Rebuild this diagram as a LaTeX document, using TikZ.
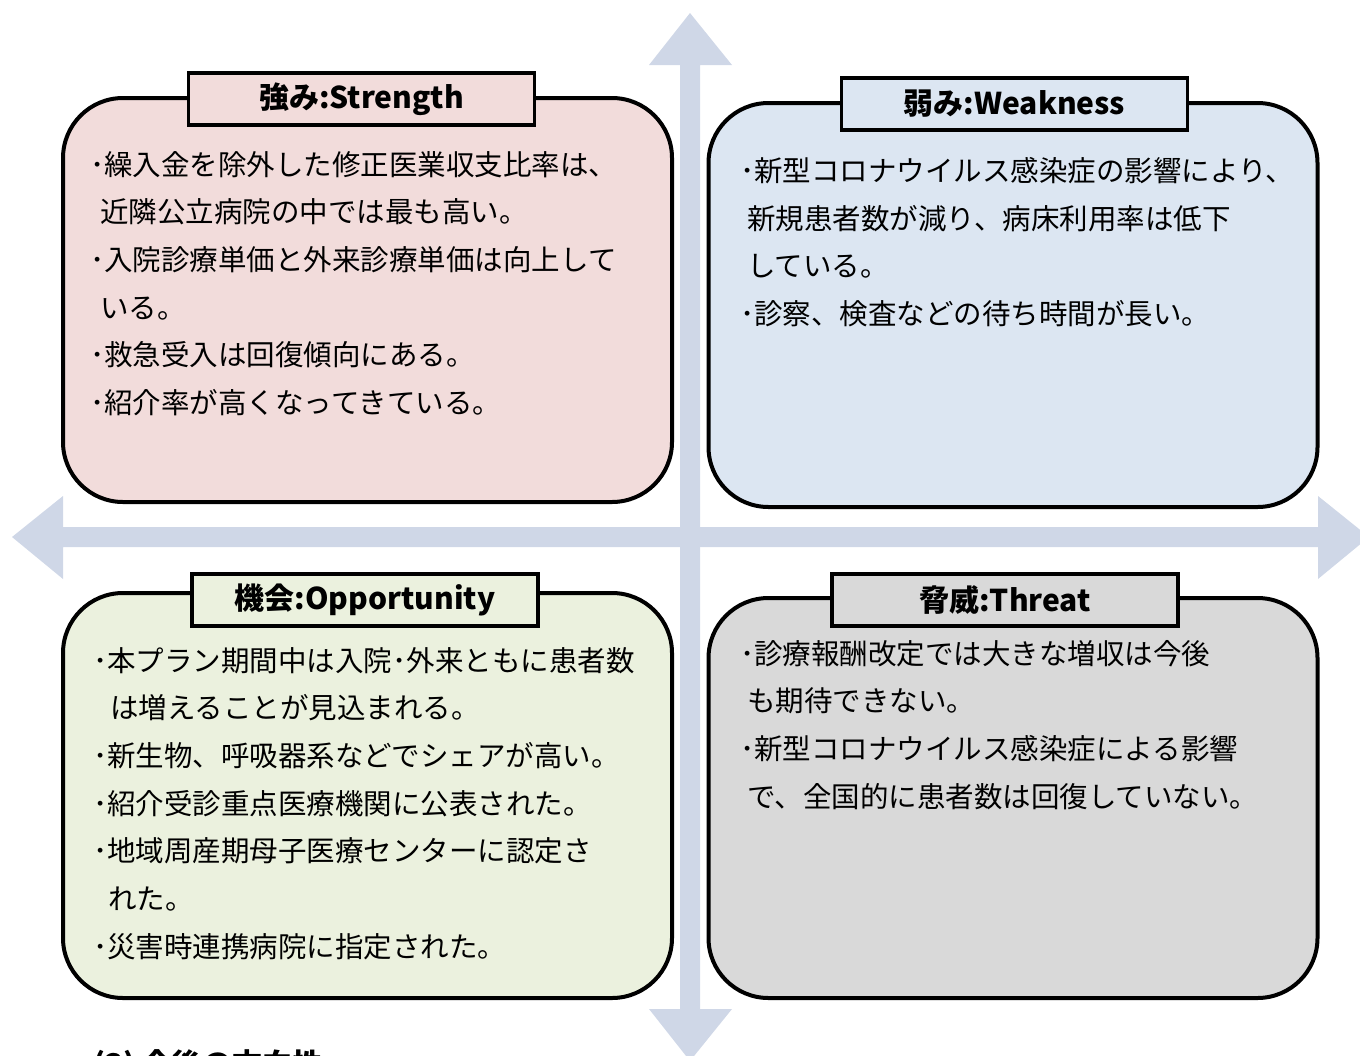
\documentclass[tikz,border=0pt]{standalone}
\usepackage{fontspec}
\setmainfont{Noto Sans CJK JP}
\definecolor{arrowc}{HTML}{CFD7E7}
\definecolor{sfill}{HTML}{F2DCDB}
\definecolor{wfill}{HTML}{DCE6F2}
\definecolor{ofill}{HTML}{EBF1DE}
\definecolor{tfill}{HTML}{D9D9D9}
\begin{document}
\begin{tikzpicture}[x=1pt,y=-1pt,
  quad/.style={draw=black, line width=4pt, rounded corners=60pt, minimum width=609pt, minimum height=404pt, inner sep=0pt},
  titlebox/.style={draw=black, line width=3.5pt, minimum width=346pt, minimum height=52pt, inner sep=0pt, font=\fontsize{30}{36}\selectfont\bfseries},
  body/.style={anchor=north west, align=left, inner sep=0pt, font=\fontsize{28.5}{47.7}\selectfont}]
\useasboundingbox (0,0) rectangle (1360,1055);
\clip (0,0) rectangle (1360,1055);
% cross arrows
\fill[arrowc] (690,13) -- (732,65) -- (700,65) -- (700,1009) -- (732,1009) -- (690,1061) -- (649,1009) -- (680,1009) -- (680,65) -- (649,65) -- cycle;
\fill[arrowc] (12,537) -- (63,496) -- (63,527) -- (1318,527) -- (1318,496) -- (1369,537) -- (1318,579) -- (1318,547) -- (63,547) -- (63,579) -- cycle;
% quadrant boxes
\node[quad, fill=sfill, minimum height=404pt] (S) at (367.5,300) {};
\node[quad, fill=wfill, minimum height=404pt] (W) at (1013,305) {};
\node[quad, fill=ofill, minimum height=405pt] (O) at (367.5,795.5) {};
\node[quad, fill=tfill, minimum height=400pt] (T) at (1013,798) {};
% titles
\node[titlebox, fill=sfill] (St) at (361.5,99) {強み:Strength};
\node[titlebox, fill=wfill] (Wt) at (1014.5,104) {弱み:Weakness};
\node[titlebox, fill=ofill] (Ot) at (365,600) {機会:Opportunity};
\node[titlebox, fill=tfill] (Tt) at (1005,600) {脅威:Threat};
% bodies
\node[body] (Sb) at (90,151) {･繰入金を除外した修正医業収支比率は、\\\hspace*{10pt}近隣公立病院の中では最も高い。\\･入院診療単価と外来診療単価は向上して\\\hspace*{10pt}いる。\\･救急受入は回復傾向にある。\\･紹介率が高くなってきている。};
\node[body] (Wb) at (740,157) {･新型コロナウイルス感染症の影響により、\\\hspace*{7pt}新規患者数が減り、病床利用率は低下\\\hspace*{7pt}している。\\･診察、検査などの待ち時間が長い。};
\node[body] (Ob) at (93,647) {･本プラン期間中は入院･外来ともに患者数\\\hspace*{17pt}は増えることが見込まれる。\\･新生物、呼吸器系などでシェアが高い。\\･紹介受診重点医療機関に公表された。\\･地域周産期母子医療センターに認定さ\\\hspace*{15pt}れた。\\･災害時連携病院に指定された。};
\node[body] (Tb) at (740,640) {･診療報酬改定では大きな増収は今後\\\hspace*{7pt}も期待できない。\\･新型コロナウイルス感染症による影響\\\hspace*{7pt}で、全国的に患者数は回復していない。};
% next heading (cut off at the bottom edge, as in the reference)
\node[anchor=north west, inner sep=0pt, font=\fontsize{30}{36}\selectfont\bfseries] (next) at (93,1049) {(3)\ 今後の方向性};
\end{tikzpicture}
\end{document}
